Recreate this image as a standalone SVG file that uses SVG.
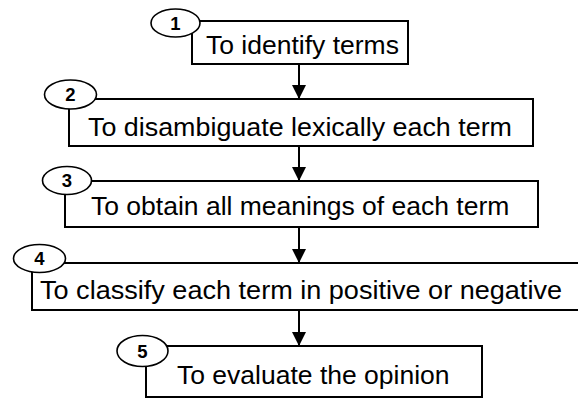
<svg xmlns="http://www.w3.org/2000/svg" width="578" height="398" viewBox="0 0 578 398">
  <style>
    .box { fill: #ffffff; stroke: #000000; stroke-width: 2; }
    .tag { fill: #ffffff; stroke: #000000; stroke-width: 1.6; }
    .label { font-family: "Liberation Sans", Arial, sans-serif; font-size: 26.5px; fill: #000000; }
    .num { font-family: "Liberation Sans", Arial, sans-serif; font-size: 18.5px; font-weight: bold; fill: #000000; text-anchor: middle; }
    .link { stroke: #000000; stroke-width: 2; fill: none; }
  </style>
  <defs>
    <marker id="arrow" markerUnits="userSpaceOnUse" markerWidth="14" markerHeight="17" refX="14" refY="7" orient="auto">
      <path d="M0,0 L14,7 L0,14 Z" fill="#000000"/>
    </marker>
  </defs>
  <rect width="578" height="398" fill="#ffffff"/>

  <g id="connectors">
    <line class="link" x1="299" y1="64" x2="299" y2="99" marker-end="url(#arrow)"/>
    <line class="link" x1="299" y1="146" x2="299" y2="181" marker-end="url(#arrow)"/>
    <line class="link" x1="299" y1="227" x2="299" y2="263" marker-end="url(#arrow)"/>
    <line class="link" x1="299" y1="310" x2="299" y2="346" marker-end="url(#arrow)"/>
  </g>

  <g id="step1">
    <rect class="box" x="192" y="21" width="216" height="43"/>
    <ellipse class="tag" cx="175.5" cy="23" rx="24.5" ry="14"/>
    <text class="num" x="175.5" y="29.5">1</text>
    <text class="label" x="206" y="54">To identify terms</text>
  </g>

  <g id="step2">
    <rect class="box" x="69" y="99" width="464" height="47"/>
    <ellipse class="tag" cx="70.5" cy="94.5" rx="26" ry="14.5"/>
    <text class="num" x="70.5" y="101">2</text>
    <text class="label" x="88" y="136" textLength="424" lengthAdjust="spacingAndGlyphs">To disambiguate lexically each term</text>
  </g>

  <g id="step3">
    <rect class="box" x="65" y="181" width="473" height="46"/>
    <ellipse class="tag" cx="67" cy="180.5" rx="24.5" ry="14"/>
    <text class="num" x="67" y="187">3</text>
    <text class="label" x="91" y="215">To obtain all meanings of each term</text>
  </g>

  <g id="step4">
    <rect class="box" x="32" y="263" width="548" height="47"/>
    <ellipse class="tag" cx="39.5" cy="258.5" rx="26" ry="14"/>
    <text class="num" x="39.5" y="265">4</text>
    <text class="label" x="40" y="299" textLength="522" lengthAdjust="spacingAndGlyphs">To classify each term in positive or negative</text>
  </g>

  <g id="step5">
    <rect class="box" x="146" y="346" width="336" height="51"/>
    <ellipse class="tag" cx="142.5" cy="351" rx="25.5" ry="15.5"/>
    <text class="num" x="142.5" y="357.5">5</text>
    <text class="label" x="177" y="384">To evaluate the opinion</text>
  </g>
</svg>
